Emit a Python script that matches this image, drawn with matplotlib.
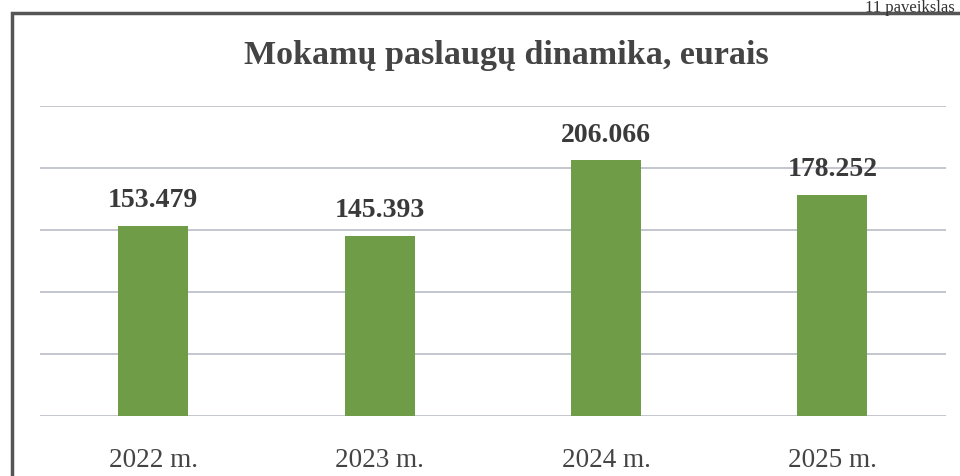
import matplotlib.pyplot as plt
from matplotlib.patches import Rectangle

# Mokamų paslaugų dinamika
years = ['2022 m.', '2023 m.', '2024 m.', '2025 m.']
values = [153479, 145393, 206066, 178252]
labels = ['153.479', '145.393', '206.066', '178.252']

plt.rcParams['font.family'] = ['Liberation Serif', 'DejaVu Serif']

fig = plt.figure(figsize=(9.6, 4.77), dpi=100)
ax = fig.add_axes([0.0417, 0.1258, 0.9433, 0.65])

x = range(len(years))
bars = ax.bar(x, values, width=0.31, color='#6f9c47', zorder=3)

for b, lab in zip(bars, labels):
    ax.annotate(lab, (b.get_x() + b.get_width() / 2, b.get_height()),
                xytext=(0, 10), textcoords='offset points',
                ha='center', va='bottom', fontsize=20, fontweight='bold',
                color='#3a3a3a')

ax.set_ylim(0, 250000)
ax.set_xlim(-0.5, 3.5)
ax.set_yticks(range(0, 250001, 50000))
ax.yaxis.grid(True, color='#c3c6cf', linewidth=1.4, zorder=0)
ax.set_yticklabels([])
ax.tick_params(axis='y', length=0)
ax.set_xticks(list(x))
ax.set_xticklabels(years, fontsize=19.5, color='#444444')
ax.tick_params(axis='x', length=0, pad=22)
for s in ax.spines.values():
    s.set_visible(False)

fig.text(0.527, 0.883, 'Mokamų paslaugų dinamika, eurais', ha='center', va='center',
         fontsize=24.5, fontweight='bold', color='#444444')

# frame of the scanned page
fig.patches.append(Rectangle((12 / 960, -0.1), 1.1, 1 - 14 / 477 + 0.1,
                             transform=fig.transFigure, fill=False,
                             edgecolor='#555555', linewidth=2.5))
fig.text(0.995, 0.999, '11 paveikslas', ha='right', va='top',
         fontsize=12, color='#333333')

fig.savefig('out.png', dpi=100)
